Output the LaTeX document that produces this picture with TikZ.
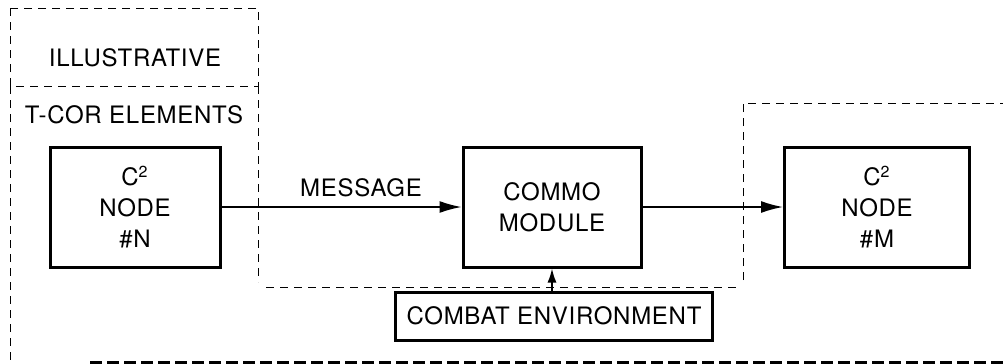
\documentclass[tikz,border=0pt]{standalone}
\usepackage{fontspec}
\setmainfont[LetterSpace=3]{TeX Gyre Heros}
\usetikzlibrary{arrows.meta}

\begin{document}
\begin{tikzpicture}[x=0.5pt, y=-0.5pt,
    every node/.style = {font=\fontsize{12}{15.5}\selectfont, align=center},
    block/.style = {draw, line width=1.5pt, inner sep=0pt,
      minimum width=89pt, minimum height=60pt},
    frame/.style = {line width=0.5pt, dash pattern=on 4pt off 3pt},
    floor/.style = {line width=1.5pt, dash pattern=on 6pt off 2.5pt},
    link/.style = {line width=0.8pt, -{Latex[length=11pt,width=6pt]}}]
    \useasboundingbox (0,0) rectangle (1003,364);
    % dashed boundaries
    \draw[frame] (10,8) rectangle (258,86);
    \draw[frame] (10,86) -- (10,362);
    \draw[frame] (258,86) -- (258,282);
    \draw[frame] (266,287) -- (737,287);
    \draw[frame] (743,280) -- (743,103) -- (1003,103);
    \draw[floor] (90,362) -- (1003,362);
    \node (illus) at (135,58) {ILLUSTRATIVE};
    \node (tcor) at (134,115) {T-COR ELEMENTS};
    % blocks
    \node[block, minimum width=85pt] (nodeN) at (135,207) {C\textsuperscript{2}\\NODE\\\#N};
    \node[block] (commo) at (552,207) {COMMO\\MODULE};
    \node[block, minimum width=92.5pt] (nodeM) at (877,207) {C\textsuperscript{2}\\NODE\\\#M};
    \node[block, minimum width=158.5pt, minimum height=24pt] (combat) at (554,316) {COMBAT ENVIRONMENT};
    \node (msg) at (361,188) {MESSAGE};
    % connectors
    \draw[link] (nodeN) -- (commo);
    \draw[link] (commo) -- (nodeM);
    \draw[link, -{Latex[length=7pt,width=4.5pt]}] (combat.north -| commo) -- (commo.south);
\end{tikzpicture}
\end{document}
